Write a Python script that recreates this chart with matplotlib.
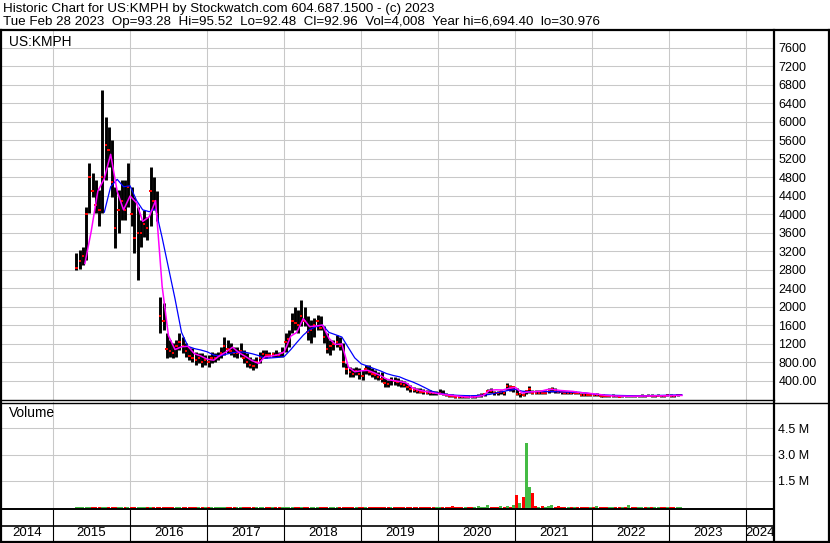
import matplotlib
matplotlib.use("Agg")
import matplotlib.pyplot as plt
import matplotlib.dates as mdates
from matplotlib.lines import Line2D
from matplotlib.ticker import FuncFormatter
import numpy as np
import pandas as pd

plt.rcParams['font.family'] = ['Liberation Sans', 'DejaVu Sans']

title_1 = "Historic Chart for US:KMPH by Stockwatch.com 604.687.1500 - (c) 2023"
title_2 = ("Tue Feb 28 2023  Op=93.28  Hi=95.52  Lo=92.48  Cl=92.96  "
           "Vol=4,008  Year hi=6,694.40  lo=30.976")
symbol = "US:KMPH"

# semi-monthly bars, 2015-04-15 .. 2023-02-15
bar_dates = pd.date_range("2015-04-15", periods=189, freq="SMS")

hi = [3160, 3230, 3300, 4170, 5110, 4900, 4740, 4520, 6690, 6110,
      5890, 5610, 4590, 4520, 4740, 4740, 5110, 4590, 4380, 4170,
      3880, 4100, 3950, 5030, 4810, 4500, 2220, 2080, 1440, 1290,
      1220, 1290, 1440, 1360, 1220, 1140, 1110, 1030, 1000, 1000,
      960, 960, 1030, 1000, 1030, 1140, 1360, 1290, 1220, 1140,
      1140, 1220, 1070, 1000, 920, 880, 920, 1030, 1070, 1070,
      1030, 1030, 1070, 1030, 1140, 1440, 1500, 1870, 2010, 1940,
      2150, 2010, 1800, 1720, 1760, 1830, 1800, 1580, 1440, 1290,
      1290, 1400, 1360, 1220, 780, 700, 670, 700, 670, 630,
      740, 740, 670, 630, 600, 600, 460, 420, 490, 480,
      470, 420, 410, 350, 310, 270, 255, 240, 220, 210,
      200, 190, 180, 220, 200, 150, 120, 110, 100, 95,
      90, 100, 105, 95, 90, 110, 135, 150, 225, 240,
      190, 180, 200, 190, 360, 320, 290, 250, 135, 140,
      205, 300, 210, 200, 205, 200, 195, 240, 260, 240,
      210, 190, 180, 175, 170, 175, 165, 140, 135, 130,
      135, 125, 130, 120, 110, 105, 100, 110, 100, 95,
      100, 95, 105, 100, 95, 100, 110, 105, 110, 115,
      105, 110, 105, 100, 120, 110, 105, 110, 100]

lo = [2800, 2830, 2900, 3020, 4030, 4380, 4030, 3750, 4030, 4740,
      5030, 4380, 3270, 3590, 3880, 3880, 4170, 3750, 3160, 2590,
      3300, 3520, 3440, 3750, 4100, 3850, 1440, 1500, 900, 920,
      900, 920, 1070, 1000, 920, 850, 810, 740, 780, 700,
      740, 700, 780, 810, 850, 900, 960, 1000, 960, 920,
      900, 920, 780, 700, 670, 630, 670, 780, 900, 900,
      920, 920, 920, 920, 920, 1030, 1140, 1440, 1500, 1440,
      1580, 1580, 1290, 1220, 1360, 1500, 1500, 1220, 1000, 960,
      1070, 1140, 1070, 700, 560, 490, 490, 530, 450, 420,
      560, 530, 490, 450, 420, 385, 280, 280, 310, 310,
      300, 280, 270, 205, 160, 160, 135, 135, 120, 110,
      100, 100, 95, 110, 90, 80, 50, 45, 40, 35,
      31, 40, 40, 35, 35, 45, 60, 70, 140, 140,
      100, 100, 110, 100, 205, 180, 170, 100, 60, 70,
      120, 130, 120, 120, 125, 120, 115, 150, 160, 140,
      130, 125, 120, 120, 115, 120, 115, 80, 75, 70,
      70, 65, 65, 60, 55, 50, 50, 55, 45, 45,
      50, 45, 50, 50, 45, 50, 60, 60, 65, 60,
      60, 65, 60, 55, 65, 60, 60, 65, 90]

cl = [2850, 3000, 3100, 4000, 4800, 4500, 4200, 4100, 4800, 5500,
      5400, 4700, 3700, 4100, 4300, 4100, 4600, 4000, 3500, 3600,
      3600, 3800, 3700, 4500, 4300, 4000, 1800, 1700, 1100, 1050,
      1000, 1150, 1250, 1150, 1050, 950, 900, 850, 900, 800,
      850, 820, 900, 900, 950, 1000, 1150, 1100, 1050, 1000,
      1000, 1050, 900, 800, 750, 720, 800, 900, 980, 970,
      960, 980, 970, 960, 1000, 1250, 1300, 1700, 1650, 1600,
      1800, 1700, 1450, 1500, 1600, 1700, 1550, 1350, 1100, 1150,
      1200, 1250, 1150, 800, 650, 600, 550, 620, 550, 500,
      650, 600, 560, 520, 480, 450, 350, 330, 420, 400,
      380, 330, 320, 260, 220, 200, 190, 170, 160, 150,
      140, 130, 130, 150, 120, 100, 80, 70, 60, 50,
      45, 60, 55, 50, 55, 80, 100, 120, 190, 180,
      150, 140, 160, 150, 300, 260, 270, 110, 120, 90,
      180, 220, 150, 140, 145, 130, 140, 200, 220, 190,
      170, 160, 150, 150, 140, 150, 140, 100, 95, 90,
      100, 90, 95, 80, 75, 70, 70, 75, 65, 60,
      70, 65, 80, 70, 65, 70, 85, 80, 85, 80,
      80, 85, 80, 75, 90, 85, 80, 90, 93]

# volume in millions of shares
vol = [0.12, 0.14, 0.11, 0.12, 0.14, 0.12, 0.11, 0.13, 0.14, 0.12,
       0.11, 0.12, 0.13, 0.11, 0.12, 0.11, 0.12, 0.11, 0.13, 0.12,
       0.11, 0.11, 0.12, 0.11, 0.11, 0.12, 0.12, 0.11, 0.11, 0.10,
       0.11, 0.10, 0.11, 0.10, 0.09, 0.10, 0.11, 0.10, 0.09, 0.10,
       0.09, 0.10, 0.11, 0.09, 0.10, 0.09, 0.10, 0.11, 0.10, 0.09,
       0.10, 0.09, 0.10, 0.09, 0.10, 0.11, 0.09, 0.10, 0.09, 0.10,
       0.09, 0.10, 0.09, 0.10, 0.11, 0.12, 0.11, 0.12, 0.12, 0.11,
       0.12, 0.12, 0.11, 0.10, 0.11, 0.10, 0.11, 0.10, 0.11, 0.12,
       0.11, 0.10, 0.11, 0.12, 0.12, 0.11, 0.10, 0.11, 0.10, 0.09,
       0.10, 0.11, 0.10, 0.09, 0.10, 0.11, 0.10, 0.09, 0.10, 0.11,
       0.10, 0.10, 0.11, 0.10, 0.11, 0.10, 0.11, 0.12, 0.11, 0.10,
       0.11, 0.12, 0.11, 0.12, 0.14, 0.12, 0.12, 0.20, 0.12, 0.11,
       0.14, 0.12, 0.11, 0.13, 0.12, 0.18, 0.12, 0.14, 0.22, 0.14,
       0.12, 0.13, 0.17, 0.14, 0.16, 0.12, 0.25, 0.83, 0.36, 0.67,
       3.78, 1.29, 0.90, 0.20, 0.14, 0.17, 0.12, 0.20, 0.25, 0.14,
       0.20, 0.12, 0.14, 0.12, 0.11, 0.14, 0.12, 0.11, 0.12, 0.14,
       0.11, 0.12, 0.16, 0.11, 0.12, 0.11, 0.14, 0.11, 0.12, 0.11,
       0.12, 0.11, 0.25, 0.12, 0.11, 0.12, 0.11, 0.12, 0.14, 0.11,
       0.12, 0.11, 0.12, 0.11, 0.12, 0.11, 0.12, 0.11, 0.10]

# moving averages, read monthly from 2015-05-01
ma_dates = pd.date_range("2015-05-01", periods=95, freq="MS")
ma_fast = [np.nan, 2940, 3640, 4500, 4780, 5300, 4500, 4100, 4400, 4250,
           3850, 3950, 4300, 2450, 1380, 1080, 1140, 1150, 990, 940,
           870, 850, 950, 1030, 1130, 1010, 930, 840, 780, 925,
           940, 965, 1030, 1370, 1450, 1750, 1575, 1590, 1610, 1320,
           1190, 1200, 700, 600, 620, 630, 580, 520, 440, 410,
           390, 360, 250, 200, 175, 150, 125, 105, 90, 75,
           60, 50, 60, 85, 200, 210, 205, 240, 260, 140,
           160, 170, 180, 215, 215, 195, 185, 175, 150, 140,
           125, 110, 90, 80, 75, 72, 70, 72, 75, 78,
           80, 80, 82, 85, 88]
ma_slow = [np.nan, np.nan, np.nan, np.nan, 4050, 4600, 4760, 4600, 4620, 4300,
           4100, 4060, 4120, 3500, 2850, 2180, 1450, 1150, 1100, 1070,
           1030, 960, 940, 980, 1010, 1030, 1020, 990, 950, 890,
           900, 910, 930, 1080, 1230, 1390, 1510, 1575, 1610, 1450,
           1400, 1350, 1120, 900, 770, 720, 670, 620, 560, 520,
           490, 430, 380, 320, 250, 180, 140, 115, 100, 90,
           85, 80, 85, 95, 110, 140, 170, 200, 220, 180,
           170, 170, 170, 170, 170, 165, 160, 158, 155, 140,
           120, 105, 98, 92, 88, 85, 82, 80, 82, 85,
           88, 90, 95, 98, 100]

price_ticks = np.arange(400, 7601, 400)
vol_ticks = [1.5, 3.0, 4.5]
years = list(range(2014, 2025))

W, H = 830, 543


def rect(x0, y0, x1, y1):
    return [x0 / W, 1 - y1 / H, (x1 - x0) / W, (y1 - y0) / H]


def hline(y, x0, x1, lw=1.0):
    fig.add_artist(Line2D([x0 / W, x1 / W], [1 - y / H, 1 - y / H], color="black", lw=lw))


def vline(x, y0, y1, lw=1.0):
    fig.add_artist(Line2D([x / W, x / W], [1 - y0 / H, 1 - y1 / H], color="black", lw=lw))


fig = plt.figure(figsize=(W / 100, H / 100), dpi=100)
ax_p = fig.add_axes(rect(2, 30, 773.5, 400))
ax_v = fig.add_axes(rect(2, 402, 773.5, 509))
ax_d = fig.add_axes(rect(2, 509, 773.5, 541))

x_left = mdates.date2num(pd.Timestamp("2014-05-04"))
x_right = mdates.date2num(pd.Timestamp("2024-05-08"))
year_starts = [mdates.date2num(pd.Timestamp(f"{y}-01-01")) for y in years[1:]]

xc = mdates.date2num(bar_dates + pd.Timedelta(days=7))
xm = mdates.date2num(ma_dates)
grid_kw = dict(color="#c8c8c8", lw=0.75)

for ax in (ax_p, ax_v, ax_d):
    ax.set_xlim(x_left, x_right)
    for s in ax.spines.values():
        s.set_visible(False)
    ax.set_xticks(year_starts)
    ax.tick_params(axis="x", length=0, labelbottom=False)

# price panel
ax_p.set_ylim(-11, 7988)
ax_p.set_yticks(price_ticks)
ax_p.yaxis.tick_right()
ax_p.tick_params(axis="y", length=0, pad=3.5, labelsize=9)
ax_p.yaxis.set_major_formatter(FuncFormatter(lambda v, p: f"{v:.0f}" if v >= 1000 else f"{v:.2f}"))
ax_p.grid(True, **grid_kw)
ax_p.set_axisbelow(True)

ax_p.vlines(xc, lo, hi, color="black", lw=2.1)
ax_p.hlines(cl, xc - 6, xc + 6, color="red", lw=1.4)
ax_p.plot(xm, ma_slow, color="#0000ff", lw=0.9)
ax_p.plot(xm, ma_fast, color="#ff00ff", lw=1.1)

# volume panel
v_bottom = -0.127
ax_v.set_ylim(v_bottom, 6.02)
ax_v.set_yticks(vol_ticks)
ax_v.yaxis.tick_right()
ax_v.tick_params(axis="y", length=0, pad=3.5, labelsize=9)
ax_v.yaxis.set_major_formatter(FuncFormatter(lambda v, p: f"{v:.1f} M"))
ax_v.grid(True, **grid_kw)
ax_v.set_axisbelow(True)
up = [True] + [cl[i] >= cl[i - 1] for i in range(1, len(cl))]
vcol = ["#44bb44" if u else "#ff0000" for u in up]
ax_v.bar(xc, vol, bottom=v_bottom, width=14, color=vcol, linewidth=0)

# date strip
ax_d.set_ylim(0, 1)
ax_d.set_yticks([])
ax_d.vlines(year_starts, 0, 1, color="black", lw=0.8)
edges = [x_left] + year_starts + [x_right]
for y, a, b in zip(years, edges[:-1], edges[1:]):
    ax_d.text((a + b) / 2, 0.24, str(y), ha="center", va="center", fontsize=9.5)

# header and labels
fig.text(3 / W, 1 - 9 / H, title_1, fontsize=9.6, va="center")
fig.text(3 / W, 1 - 22.5 / H, title_2, fontsize=9.6, va="center")
fig.text(9 / W, 1 - 42 / H, symbol, fontsize=9.9, va="center")
fig.text(9 / W, 1 - 413 / H, "Volume", fontsize=9.9, va="center")

# frame lines
hline(29.5, 0, 830, lw=1.6)
hline(400, 0, 773.5)
hline(402.5, 0, 830)
hline(509, 0, 773.5, lw=1.4)
hline(526, 0, 773.5, lw=1.2)
hline(541.5, 0, 830, lw=1.6)
vline(1, 29.5, 541.5, lw=1.6)
vline(773.5, 29.5, 541.5, lw=1.6)
vline(829, 29.5, 541.5, lw=1.6)

fig.savefig("out.png", dpi=100)
